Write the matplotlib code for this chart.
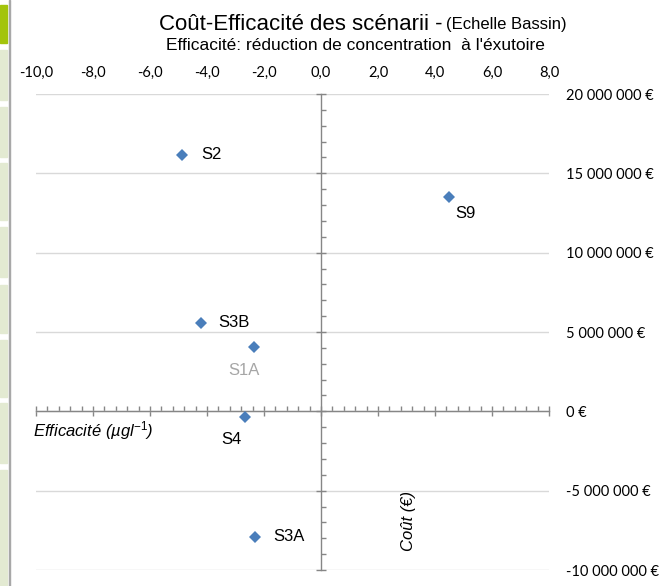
import matplotlib
matplotlib.use("Agg")
import matplotlib.pyplot as plt
from matplotlib.patches import Rectangle
from matplotlib.ticker import MultipleLocator, FuncFormatter

# ---- data ----
scenarios = ["S2", "S9", "S3B", "S1A", "S4", "S3A"]
efficacite = [-4.88, 4.49, -4.21, -2.35, -2.67, -2.32]
cout = [16.17e6, 13.52e6, 5.58e6, 4.07e6, -0.35e6, -7.91e6]
label_colors = ["#000000", "#000000", "#000000", "#a6a6a6", "#000000", "#000000"]
x_ticks = [-10, -8, -6, -4, -2, 0, 2, 4, 6, 8]
y_ticks = [-10e6, -5e6, 0, 5e6, 10e6, 15e6, 20e6]

W, H = 667, 586
plt.rcParams['mathtext.fontset'] = 'custom'
plt.rcParams['mathtext.rm'] = 'Liberation Sans'
plt.rcParams['mathtext.it'] = 'Liberation Sans:italic'

fig = plt.figure(figsize=(W / 100, H / 100), dpi=100)

def fx(px):
    return px / W

def fy(py):
    return 1 - py / H

# Excel-like left sidebar decoration
fig.patches.append(Rectangle((0, fy(43)), fx(7), (43 - 5) / H, transform=fig.transFigure,
                             color="#a3c40c", zorder=0))
for top, bot in [(50, 100), (107, 157), (163, 220), (227, 277), (285, 333),
                 (340, 397), (403, 463), (470, 586)]:
    fig.patches.append(Rectangle((0, fy(bot)), fx(7), (bot - top) / H, transform=fig.transFigure,
                                 color="#e3ead2", zorder=0))
fig.patches.append(Rectangle((fx(8.5), 0), fx(1.5), 1, transform=fig.transFigure,
                             color="#a8a8a8", zorder=0))

left, right, top, bottom = 36, 549, 94, 570
ax = fig.add_axes([fx(left), fy(bottom), fx(right - left), (bottom - top) / H])
ax.set_xlim(-10, 8)
ax.set_ylim(-10e6, 20e6)

axis_col = "#868686"
for s in ["top", "right"]:
    ax.spines[s].set_visible(False)
ax.spines["left"].set_position(("data", 0))
ax.spines["bottom"].set_position(("data", 0))
for s in ["left", "bottom"]:
    ax.spines[s].set_color(axis_col)
    ax.spines[s].set_linewidth(1.0)

ax.xaxis.set_major_locator(MultipleLocator(2))
ax.xaxis.set_minor_locator(MultipleLocator(0.4))
ax.yaxis.set_major_locator(MultipleLocator(5e6))
ax.yaxis.set_minor_locator(MultipleLocator(1e6))
ax.tick_params(which="major", direction="inout", length=7, width=1, color=axis_col,
               labelbottom=False, labelleft=False)
ax.tick_params(which="minor", direction="in", length=3.5, width=1, color=axis_col)

ax.yaxis.grid(True, which="major", color="#d9d9d9", linewidth=1.0)
ax.set_axisbelow(True)

# top tick labels
sx = ax.secondary_xaxis("top")
sx.set_xticks(x_ticks)
sx.xaxis.set_major_formatter(FuncFormatter(lambda v, p: f"{v:.1f}".replace(".", ",")))
sx.tick_params(length=0, pad=10, labelsize=10.5)
sx.spines["top"].set_visible(False)
for lab in sx.get_xticklabels():
    lab.set_fontfamily("Lato")

# right tick labels
def eur(v, p):
    s = f"{abs(int(round(v))):,}".replace(",", " ")
    return ("-" if v < 0 else "") + s + " €"

sy = ax.secondary_yaxis("right")
sy.set_yticks(y_ticks)
sy.yaxis.set_major_formatter(FuncFormatter(eur))
sy.tick_params(length=0, pad=12, labelsize=10.5)
sy.spines["right"].set_visible(False)
for lab in sy.get_yticklabels():
    lab.set_fontfamily("Lato")

# points
ax.plot(efficacite, cout, linestyle="none", marker="D", markersize=6.6,
        color="#4a7ebb", markeredgewidth=0, zorder=5, clip_on=False)

offsets = {"S2": (19, 0, "left"), "S9": (17, 17, "center"), "S3B": (17, 0, "left"),
           "S1A": (-10, 24, "center"), "S4": (-13, 23, "center"), "S3A": (18, 0, "left")}
for name, x, y, c in zip(scenarios, efficacite, cout, label_colors):
    dx, dy, ha = offsets[name]
    ax.annotate(name, (x, y), xytext=(dx * 0.72, -dy * 0.72), textcoords="offset points",
                ha=ha, va="center", fontsize=12, color=c, family="Liberation Sans")

# axis titles
fig.text(fx(33), fy(431), r"Efficacité (µgl$^{-1}$)", ha="left", va="center",
         fontsize=12, style="italic", family="Liberation Sans")
fig.text(fx(408), fy(521), "Coût (€)", ha="center", va="center", rotation=90,
         fontsize=12, style="italic", family="Liberation Sans")

# titles
fig.canvas.draw()
t2 = fig.text(fx(567), fy(25), "(Echelle Bassin)", ha="right", va="center",
              fontsize=12, family="Liberation Sans")
r = fig.canvas.get_renderer()
bb = t2.get_window_extent(r)
fig.text(bb.x0 / W - fx(4), fy(25), "Coût-Efficacité des scénarii -", ha="right", va="center",
         fontsize=16, family="Liberation Sans")
fig.text(fx(355), fy(45), "Efficacité: réduction de concentration  à l'éxutoire", ha="center",
         va="center", fontsize=12.5, family="Liberation Sans")

fig.savefig("out.png", dpi=100)
